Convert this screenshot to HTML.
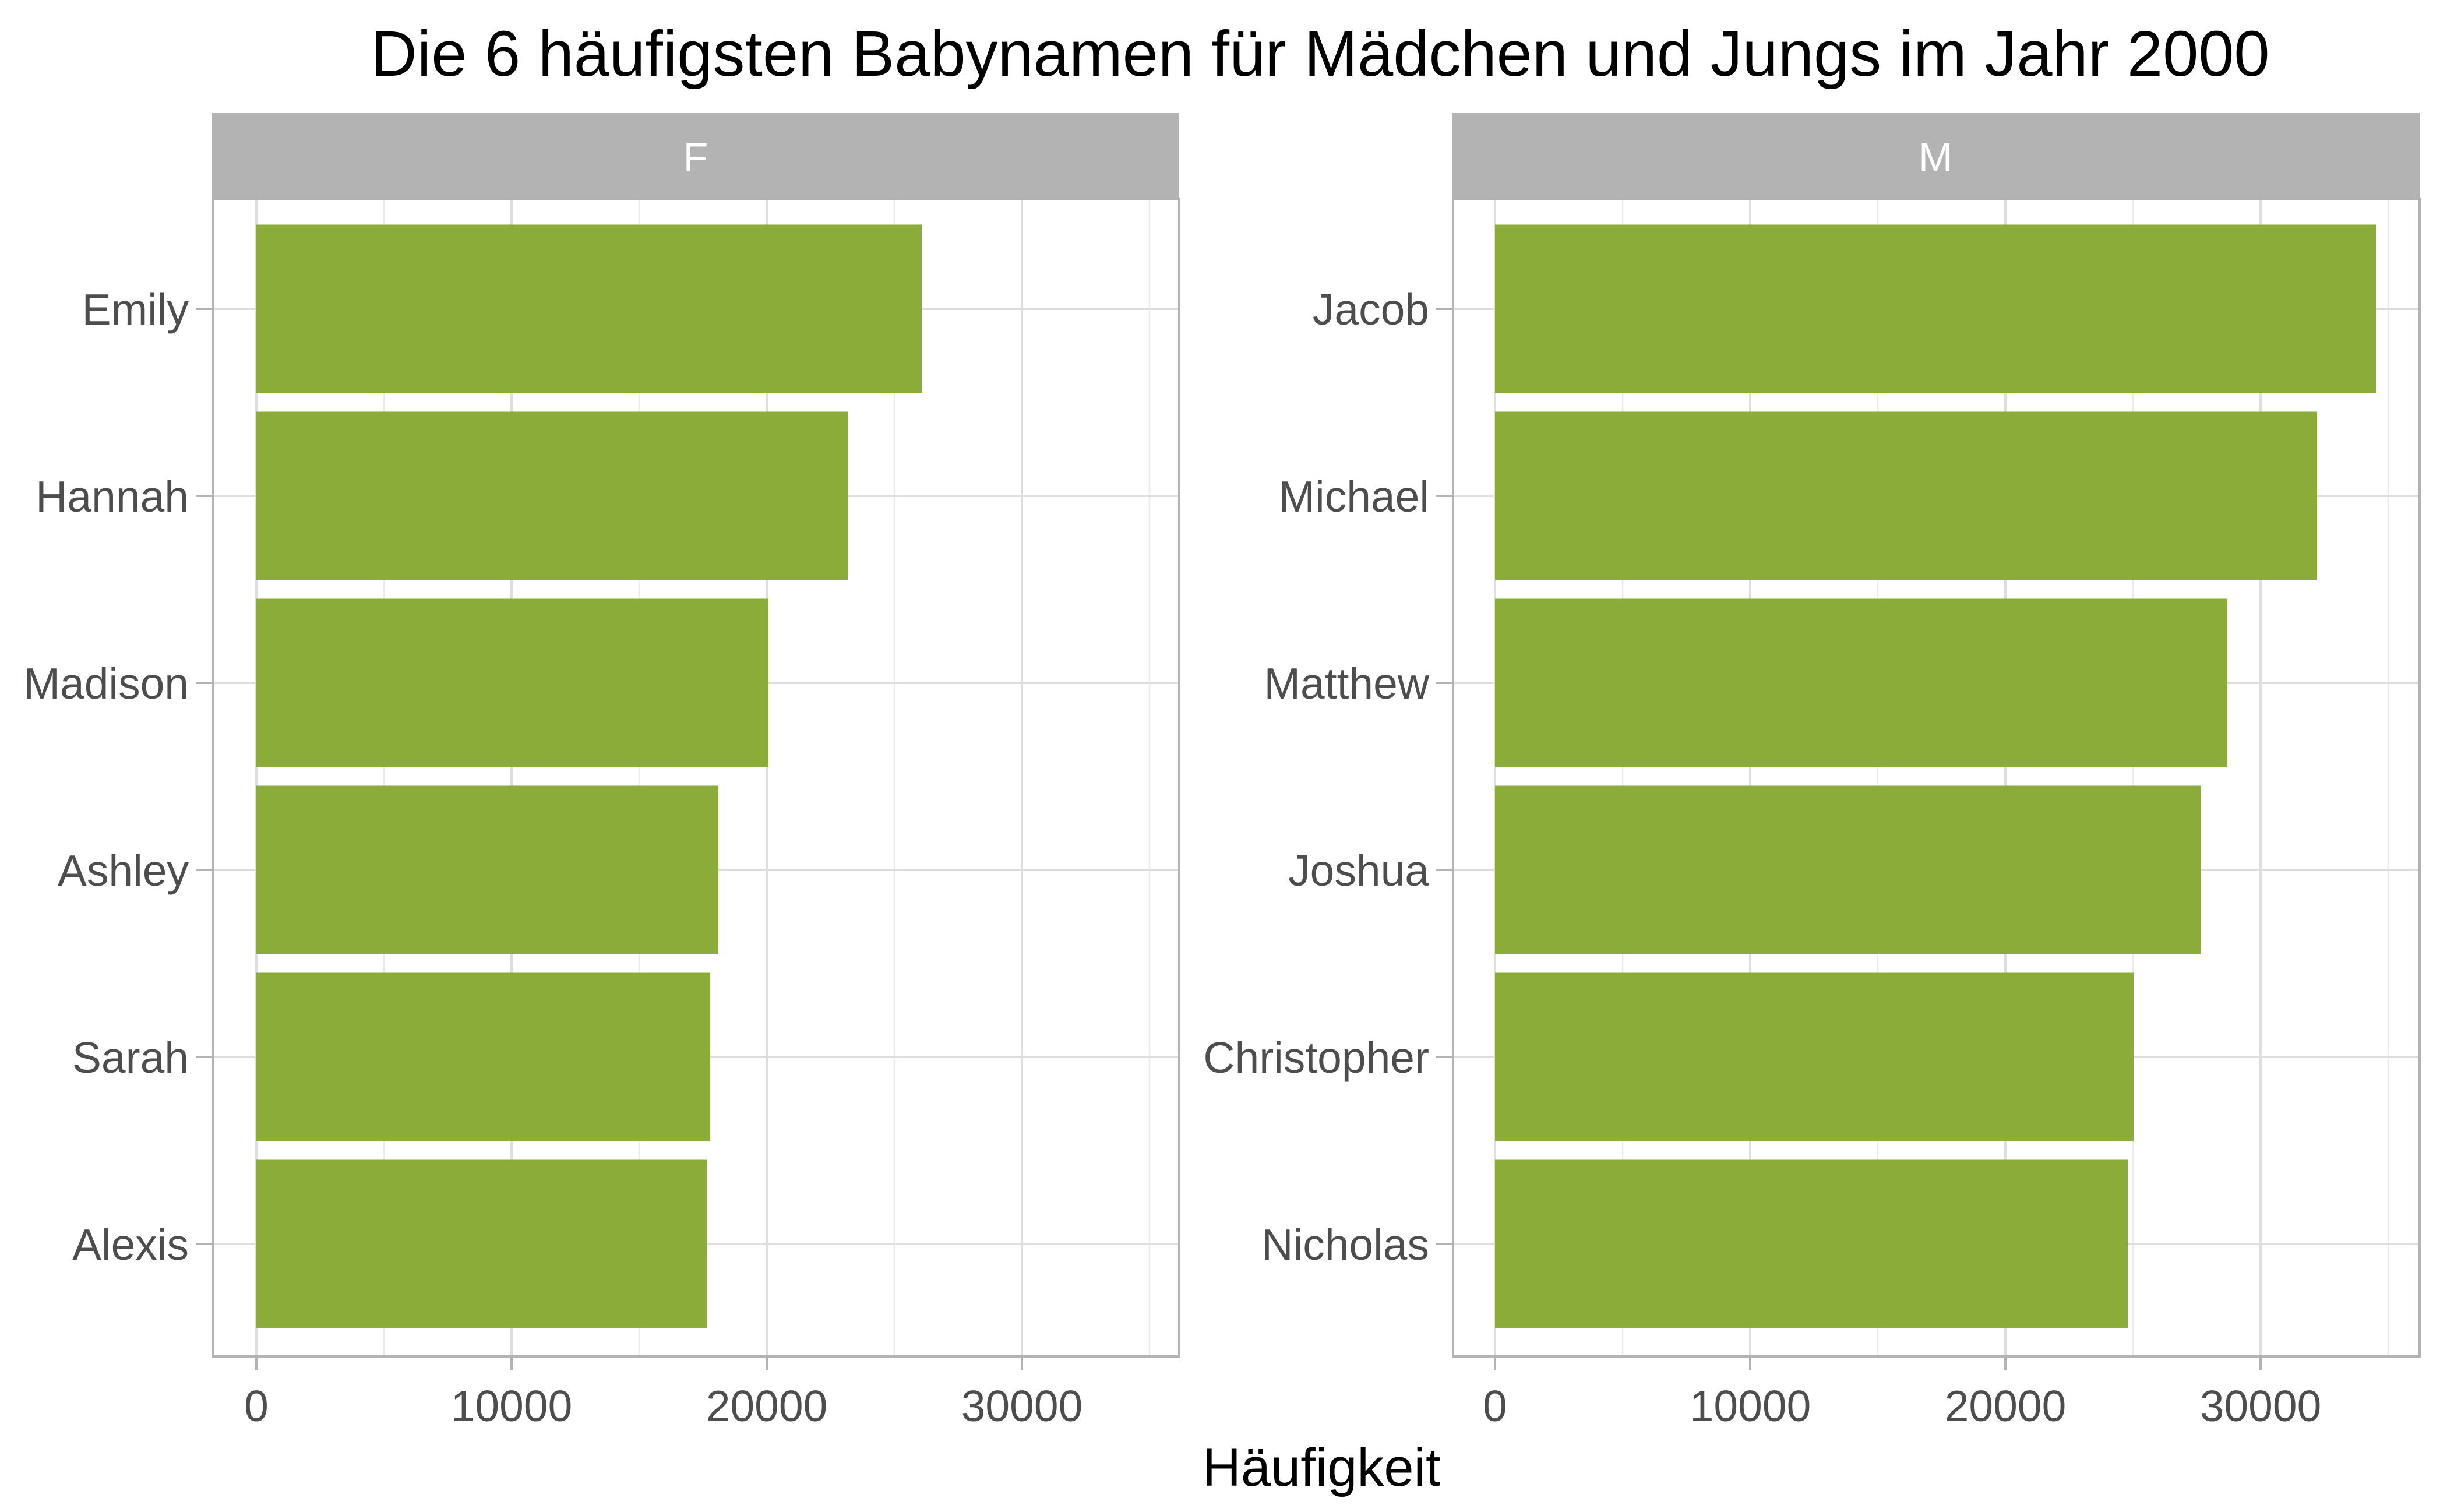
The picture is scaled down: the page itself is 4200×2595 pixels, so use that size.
<!DOCTYPE html>
<html><head><meta charset="utf-8"><style>html,body{margin:0;padding:0;background:#fff}svg{display:block}</style></head>
<body>
<svg width="4200" height="2595" viewBox="0 0 4200 2595" xmlns="http://www.w3.org/2000/svg" font-family="Liberation Sans, Arial, sans-serif">
<rect width="4200" height="2595" fill="#fff"/>
<text x="2266" y="130" font-size="110" text-anchor="middle" fill="#000">Die 6 häufigsten Babynamen für Mädchen und Jungs im Jahr 2000</text>

<!-- Left panel -->
<g>
<rect x="364" y="194" width="1660" height="147" fill="#b3b3b3"/>
<text x="1194" y="294" font-size="70" fill="#fff" text-anchor="middle">F</text>
<g stroke="#ebebeb" stroke-width="2.5">
<line x1="659" y1="341" x2="659" y2="2328"/><line x1="1097" y1="341" x2="1097" y2="2328"/><line x1="1535" y1="341" x2="1535" y2="2328"/><line x1="1973" y1="341" x2="1973" y2="2328"/>
</g>
<g stroke="#dedede" stroke-width="4">
<line x1="440" y1="341" x2="440" y2="2328"/><line x1="878" y1="341" x2="878" y2="2328"/><line x1="1316" y1="341" x2="1316" y2="2328"/><line x1="1754" y1="341" x2="1754" y2="2328"/>
<line x1="366" y1="530" x2="2024" y2="530"/><line x1="366" y1="851" x2="2024" y2="851"/><line x1="366" y1="1172" x2="2024" y2="1172"/><line x1="366" y1="1493" x2="2024" y2="1493"/><line x1="366" y1="1814" x2="2024" y2="1814"/><line x1="366" y1="2135" x2="2024" y2="2135"/>
</g>
<g fill="#8bac39">
<rect x="440" y="385.5" width="1142" height="289"/>
<rect x="440" y="706.5" width="1016" height="289"/>
<rect x="440" y="1027.5" width="879" height="289"/>
<rect x="440" y="1348.5" width="793" height="289"/>
<rect x="440" y="1669.5" width="779" height="289"/>
<rect x="440" y="1990.5" width="774" height="289"/>
</g>
<rect x="366" y="341" width="1658" height="1987" fill="none" stroke="#b3b3b3" stroke-width="4"/>
<g stroke="#b3b3b3" stroke-width="4">
<line x1="336" y1="530" x2="366" y2="530"/><line x1="336" y1="851" x2="366" y2="851"/><line x1="336" y1="1172" x2="366" y2="1172"/><line x1="336" y1="1493" x2="366" y2="1493"/><line x1="336" y1="1814" x2="366" y2="1814"/><line x1="336" y1="2135" x2="366" y2="2135"/>
<line x1="440" y1="2328" x2="440" y2="2352"/><line x1="878" y1="2328" x2="878" y2="2352"/><line x1="1316" y1="2328" x2="1316" y2="2352"/><line x1="1754" y1="2328" x2="1754" y2="2352"/>
</g>
<g font-size="75" fill="#4d4d4d" text-anchor="end">
<text x="324" y="557">Emily</text><text x="324" y="878">Hannah</text><text x="324" y="1199">Madison</text><text x="324" y="1520">Ashley</text><text x="324" y="1841">Sarah</text><text x="324" y="2162">Alexis</text>
</g>
<g font-size="75" fill="#4d4d4d" text-anchor="middle">
<text x="440" y="2439">0</text><text x="878" y="2439">10000</text><text x="1316" y="2439">20000</text><text x="1754" y="2439">30000</text>
</g>
</g>

<!-- Right panel -->
<g>
<rect x="2492" y="194" width="1661" height="147" fill="#b3b3b3"/>
<text x="3322" y="294" font-size="70" fill="#fff" text-anchor="middle">M</text>
<g stroke="#ebebeb" stroke-width="2.5">
<line x1="2785" y1="341" x2="2785" y2="2328"/><line x1="3223" y1="341" x2="3223" y2="2328"/><line x1="3661" y1="341" x2="3661" y2="2328"/><line x1="4099" y1="341" x2="4099" y2="2328"/>
</g>
<g stroke="#dedede" stroke-width="4">
<line x1="2566" y1="341" x2="2566" y2="2328"/><line x1="3004" y1="341" x2="3004" y2="2328"/><line x1="3442" y1="341" x2="3442" y2="2328"/><line x1="3880" y1="341" x2="3880" y2="2328"/>
<line x1="2494" y1="530" x2="4153" y2="530"/><line x1="2494" y1="851" x2="4153" y2="851"/><line x1="2494" y1="1172" x2="4153" y2="1172"/><line x1="2494" y1="1493" x2="4153" y2="1493"/><line x1="2494" y1="1814" x2="4153" y2="1814"/><line x1="2494" y1="2135" x2="4153" y2="2135"/>
</g>
<g fill="#8bac39">
<rect x="2566" y="385.5" width="1512" height="289"/>
<rect x="2566" y="706.5" width="1411" height="289"/>
<rect x="2566" y="1027.5" width="1257" height="289"/>
<rect x="2566" y="1348.5" width="1212" height="289"/>
<rect x="2566" y="1669.5" width="1096" height="289"/>
<rect x="2566" y="1990.5" width="1086" height="289"/>
</g>
<rect x="2494" y="341" width="1659" height="1987" fill="none" stroke="#b3b3b3" stroke-width="4"/>
<g stroke="#b3b3b3" stroke-width="4">
<line x1="2464" y1="530" x2="2494" y2="530"/><line x1="2464" y1="851" x2="2494" y2="851"/><line x1="2464" y1="1172" x2="2494" y2="1172"/><line x1="2464" y1="1493" x2="2494" y2="1493"/><line x1="2464" y1="1814" x2="2494" y2="1814"/><line x1="2464" y1="2135" x2="2494" y2="2135"/>
<line x1="2566" y1="2328" x2="2566" y2="2352"/><line x1="3004" y1="2328" x2="3004" y2="2352"/><line x1="3442" y1="2328" x2="3442" y2="2352"/><line x1="3880" y1="2328" x2="3880" y2="2352"/>
</g>
<g font-size="75" fill="#4d4d4d" text-anchor="end">
<text x="2453" y="557">Jacob</text><text x="2453" y="878">Michael</text><text x="2453" y="1199">Matthew</text><text x="2453" y="1520">Joshua</text><text x="2453" y="1841">Christopher</text><text x="2453" y="2162">Nicholas</text>
</g>
<g font-size="75" fill="#4d4d4d" text-anchor="middle">
<text x="2566" y="2439">0</text><text x="3004" y="2439">10000</text><text x="3442" y="2439">20000</text><text x="3880" y="2439">30000</text>
</g>
</g>

<text x="2268" y="2550" font-size="92" text-anchor="middle" fill="#000">Häufigkeit</text>
</svg>
</body></html>
